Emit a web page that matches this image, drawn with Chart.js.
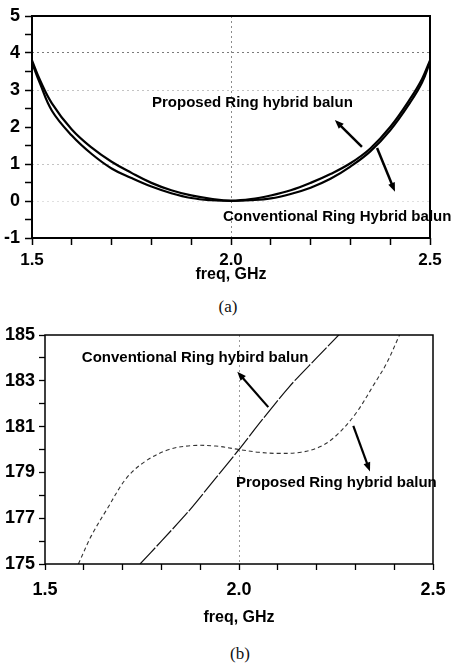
<!DOCTYPE html>
<html>
<head>
<meta charset="utf-8">
<script src="https://cdn.jsdelivr.net/npm/chart.js@4.4.1/dist/chart.umd.min.js"></script>
<style>
  body { margin: 0; background: #fff; width: 457px; height: 664px; position: relative; overflow: hidden; }
  canvas { position: absolute; left: 0; }
  #chartA { top: 0; }
  #chartB { top: 320px; }
  .cap { position: absolute; font: 17px "Liberation Serif", serif; color: #111; transform: translateX(-50%); }
</style>
</head>
<body>
<canvas id="chartA" width="457" height="290"></canvas>
<canvas id="chartB" width="457" height="310"></canvas>
<div class="cap" style="left:228px;top:297px">(a)</div>
<div class="cap" style="left:240px;top:644px">(b)</div>
<script>
// (a) magnitude curves
const freqA = [1.50, 1.52, 1.55, 1.60, 1.65, 1.70, 1.75, 1.80, 1.85, 1.90, 1.95, 2.00,
               2.05, 2.10, 2.15, 2.20, 2.25, 2.30, 2.35, 2.40, 2.45, 2.48, 2.50];
const conventionalA = [3.80, 3.27, 2.64, 1.93, 1.44, 1.06, 0.76, 0.49, 0.29, 0.15, 0.06, 0.01,
                       0.05, 0.15, 0.29, 0.49, 0.73, 1.02, 1.42, 2.00, 2.76, 3.30, 3.80];
const proposedA = [3.74, 3.18, 2.44, 1.77, 1.27, 0.88, 0.62, 0.39, 0.21, 0.08, 0.02, 0.00,
                   0.02, 0.07, 0.19, 0.36, 0.60, 0.93, 1.34, 1.91, 2.66, 3.20, 3.76];

// (b) phase curves
const freqConvB = [1.745, 1.80, 1.87, 1.94, 2.00, 2.06, 2.13, 2.20, 2.26];
const conventionalB = [175.0, 176.0, 177.3, 178.75, 180.0, 181.3, 182.75, 184.0, 185.05];
const freqPropB = [1.586, 1.62, 1.66, 1.71, 1.76, 1.82, 1.88, 1.94, 2.00, 2.05, 2.10,
                   2.16, 2.21, 2.25, 2.30, 2.35, 2.38, 2.415];
const proposedB = [175.0, 176.25, 177.4, 178.75, 179.5, 180.0, 180.17, 180.15, 180.0, 179.88, 179.83,
                   179.88, 180.13, 180.6, 181.55, 182.9, 183.75, 185.05];

const xTickLabels = [1.5, 2.0, 2.5];

const near = (a, b) => Math.abs(a - b) < 1e-6;
const toPoints = (xs, ys) => xs.map((x, i) => ({ x: x, y: ys[i] }));
const sans = '"Liberation Sans", Arial, sans-serif';
const narrow = '"Liberation Sans Narrow", "Liberation Sans", Arial, sans-serif';

const framePlugin = {
    id: "frame",
    afterDatasetsDraw(chart, args, opts) {
        const { ctx, chartArea: a } = chart;
        ctx.save();
        ctx.strokeStyle = "#000";
        ctx.lineWidth = opts.width;
        ctx.strokeRect(a.left, a.top, a.right - a.left, a.bottom - a.top);
        ctx.restore();
    },
};

const notesPlugin = {
    id: "notes",
    afterDraw(chart, args, opts) {
        const ctx = chart.ctx, sx = chart.scales.x, sy = chart.scales.y;
        ctx.save();
        ctx.fillStyle = "#000";
        ctx.font = opts.font;
        ctx.textAlign = "left";
        ctx.textBaseline = "middle";
        opts.labels.forEach((l) => {
            ctx.fillText(l.text, sx.getPixelForValue(l.x), sy.getPixelForValue(l.y));
        });
        ctx.strokeStyle = "#000";
        ctx.lineWidth = opts.arrowWidth;
        opts.arrows.forEach((a) => {
            const x1 = sx.getPixelForValue(a.x1), y1 = sy.getPixelForValue(a.y1);
            const x2 = sx.getPixelForValue(a.x2), y2 = sy.getPixelForValue(a.y2);
            const ang = Math.atan2(y2 - y1, x2 - x1), h = 9, w = 3.5;
            ctx.beginPath();
            ctx.moveTo(x1, y1);
            ctx.lineTo(x2 - Math.cos(ang) * h * 0.6, y2 - Math.sin(ang) * h * 0.6);
            ctx.stroke();
            ctx.beginPath();
            ctx.moveTo(x2, y2);
            ctx.lineTo(x2 - Math.cos(ang) * h - Math.sin(ang) * w, y2 - Math.sin(ang) * h + Math.cos(ang) * w);
            ctx.lineTo(x2 - Math.cos(ang) * h + Math.sin(ang) * w, y2 - Math.sin(ang) * h - Math.cos(ang) * w);
            ctx.closePath();
            ctx.fill();
        });
        ctx.restore();
    },
};

const xLabel = (v) => (xTickLabels.some((t) => near(t, v)) ? v.toFixed(1) : "");

const gridA = (v) => {
    if (near(v, 4)) return "#7a7a7a";
    if (near(v, 3) || near(v, 1)) return "#c4c4c4";
    if (near(v, 0)) return "#e0e0e0";
    return "rgba(0,0,0,0)";
};

new Chart(document.getElementById("chartA"), {
    type: "line",
    data: {
        datasets: [
            { label: "Conventional Ring Hybrid balun", data: toPoints(freqA, conventionalA),
              borderColor: "#000", borderWidth: 2.2, pointRadius: 0, tension: 0.4 },
            { label: "Proposed Ring hybrid balun", data: toPoints(freqA, proposedA),
              borderColor: "#000", borderWidth: 2.2, pointRadius: 0, tension: 0.4 },
        ],
    },
    options: {
        responsive: false,
        animation: false,
        layout: { padding: { top: 16, right: 27, left: 0, bottom: 0 } },
        plugins: {
            legend: { display: false },
            tooltip: { enabled: false },
            frame: { width: 2 },
            notes: {
                font: "bold 15px " + sans,
                arrowWidth: 2.5,
                labels: [
                    { text: "Proposed Ring hybrid balun", x: 1.8015, y: 2.65 },
                    { text: "Conventional Ring Hybrid balun", x: 1.98, y: -0.43 },
                ],
                arrows: [
                    { x1: 2.329, y1: 1.46, x2: 2.261, y2: 2.19 },
                    { x1: 2.367, y1: 1.43, x2: 2.412, y2: 0.25 },
                ],
            },
        },
        scales: {
            x: {
                type: "linear", min: 1.5, max: 2.5,
                afterFit: (s) => { s.height = 52; },
                border: { display: false, dash: [2, 3] },
                grid: {
                    color: (c) => (near(c.tick.value, 2) ? "#8a8a8a" : "rgba(0,0,0,0)"),
                    tickColor: "#000", tickLength: 7, tickWidth: 1.5,
                },
                ticks: {
                    stepSize: 0.1, autoSkip: false, maxRotation: 0, padding: 5, color: "#000",
                    font: { family: sans, size: 17, weight: "bold" },
                    callback: xLabel,
                },
                title: {
                    display: true, text: "freq, GHz", color: "#000",
                    font: { family: sans, size: 16, weight: "bold" },
                    padding: { top: 0, bottom: 6 },
                },
            },
            y: {
                min: -1, max: 5,
                afterFit: (s) => { s.width = 32; },
                border: { display: false, dash: [2, 3] },
                grid: { color: (c) => gridA(c.tick.value), tickColor: "#000", tickLength: 7, tickWidth: 1.5 },
                ticks: {
                    stepSize: 0.5, autoSkip: false, padding: 5, color: "#000",
                    font: { family: narrow, size: 18, weight: "bold" },
                    callback: (v) => (Number.isInteger(v) ? String(v) : ""),
                },
            },
        },
    },
    plugins: [framePlugin, notesPlugin],
});

new Chart(document.getElementById("chartB"), {
    type: "line",
    data: {
        datasets: [
            { label: "Conventional Ring hybird balun", data: toPoints(freqConvB, conventionalB),
              borderColor: "#111", borderWidth: 1.2, borderDash: [22, 2], pointRadius: 0, tension: 0.3 },
            { label: "Proposed Ring hybrid balun", data: toPoints(freqPropB, proposedB),
              borderColor: "#333", borderWidth: 1.1, borderDash: [4, 3], pointRadius: 0, tension: 0.35 },
        ],
    },
    options: {
        responsive: false,
        animation: false,
        layout: { padding: { top: 15, right: 24, left: 0, bottom: 0 } },
        plugins: {
            legend: { display: false },
            tooltip: { enabled: false },
            frame: { width: 1.5 },
            notes: {
                font: "bold 15px " + sans,
                arrowWidth: 2.2,
                labels: [
                    { text: "Conventional Ring hybird balun", x: 1.595, y: 184.02 },
                    { text: "Proposed Ring hybrid balun", x: 1.992, y: 178.56 },
                ],
                arrows: [
                    { x1: 2.0755, y1: 181.85, x2: 1.9956, y2: 183.4 },
                    { x1: 2.2946, y1: 181.03, x2: 2.3376, y2: 179.04 },
                ],
            },
        },
        scales: {
            x: {
                type: "linear", min: 1.5, max: 2.5,
                afterFit: (s) => { s.height = 66; },
                border: { display: false, dash: [2, 3] },
                grid: {
                    color: (c) => (near(c.tick.value, 2) ? "#9a9a9a" : "rgba(0,0,0,0)"),
                    tickColor: "#000", tickLength: 6, tickWidth: 1.3,
                },
                ticks: {
                    stepSize: 0.1, autoSkip: false, maxRotation: 0, padding: 9, color: "#000",
                    font: { family: sans, size: 18, weight: "bold" },
                    callback: xLabel,
                },
                title: {
                    display: true, text: "freq, GHz", color: "#000",
                    font: { family: sans, size: 16, weight: "bold" },
                    padding: { top: 0, bottom: 3 },
                },
            },
            y: {
                min: 175, max: 185,
                afterFit: (s) => { s.width = 45; },
                border: { display: false },
                grid: { color: "rgba(0,0,0,0)", tickColor: "#000", tickLength: 6, tickWidth: 1.3 },
                ticks: {
                    stepSize: 1, autoSkip: false, padding: 4, color: "#000",
                    font: { family: narrow, size: 18, weight: "bold" },
                    callback: (v) => (v % 2 === 1 ? String(v) : ""),
                },
            },
        },
    },
    plugins: [framePlugin, notesPlugin],
});
</script>
</body>
</html>
